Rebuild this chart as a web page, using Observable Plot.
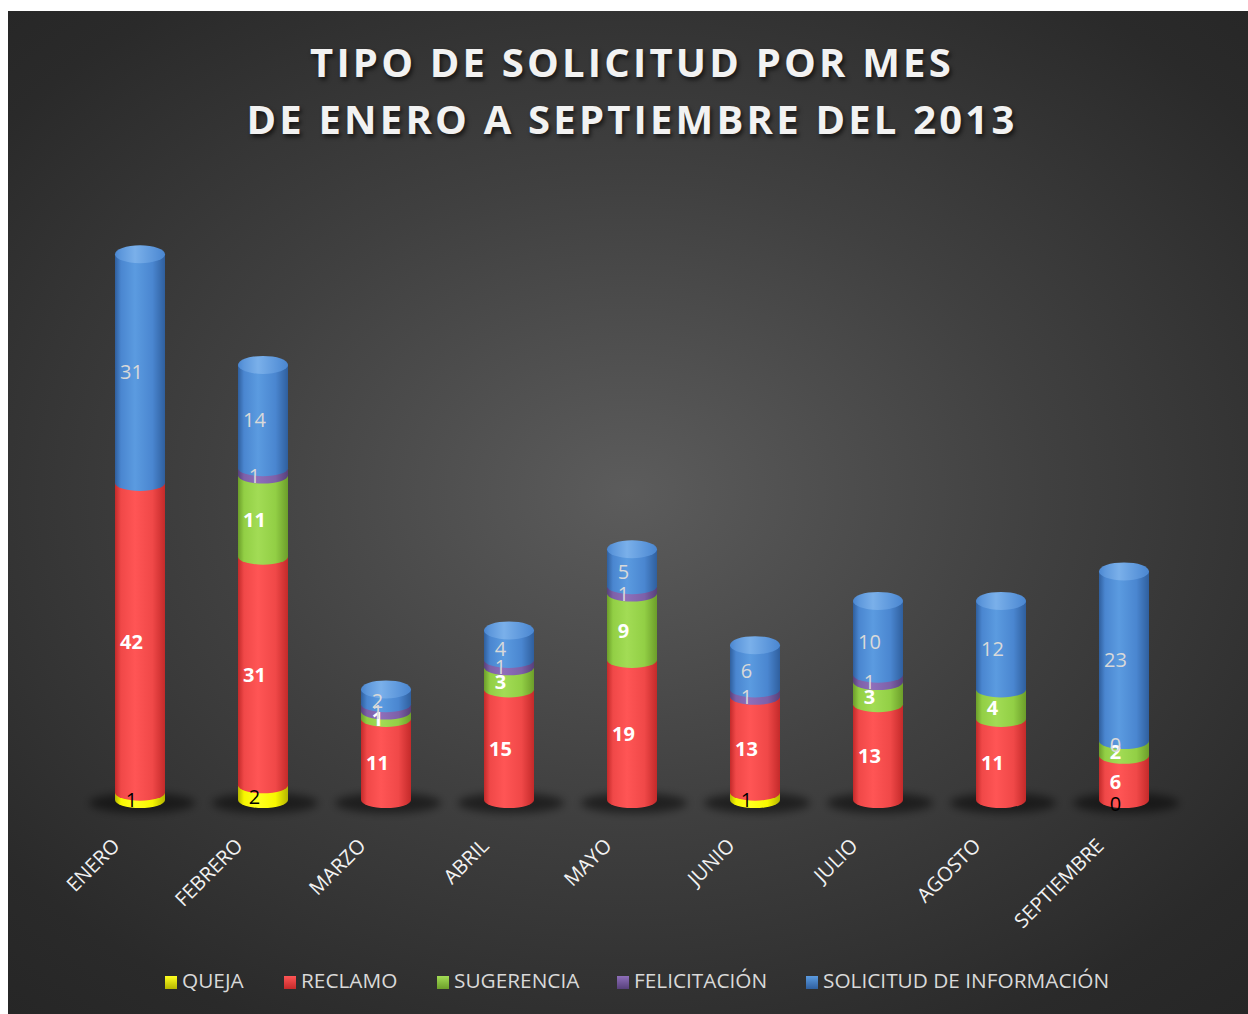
<!DOCTYPE html>
<html>
<head>
<meta charset="utf-8">
<script src="https://cdn.jsdelivr.net/npm/d3@7"></script>
<script src="https://cdn.jsdelivr.net/npm/@observablehq/plot@0.6"></script>
<style>
  html, body { margin: 0; padding: 0; background: #fff; }
  #panel {
    position: absolute; left: 8px; top: 11px; width: 1240px; height: 1003px;
    background: radial-gradient(ellipse 75% 70% at 50% 48%, #5c5c5c 0%, #404040 45%, #2a2a2a 85%, #262626 100%);
    overflow: hidden;
  }
  #title {
    position: absolute; left: 8px; top: 33px; width: 1248px; text-align: center;
    font-family: "Open Sans", sans-serif; font-weight: 700; font-size: 40px;
    letter-spacing: 3.2px; line-height: 57px; color: #f2f2f2;
    text-shadow: 2px 3px 4px rgba(0,0,0,0.6);
  }
  #chart { position: absolute; left: 0; top: 0; }
  #legend {
    position: absolute; left: 0; top: 966px; width: 1248px; height: 30px;
    font-family: "Open Sans", sans-serif; font-size: 20.8px; color: #d9d9d9;
  }
  #legend span.item { position: absolute; top: 0; white-space: nowrap; }
  #legend span.sw { display: inline-block; width: 12px; height: 13px; margin-right: 5px; vertical-align: -1px; }
</style>
</head>
<body>
<div id="root" style="position:absolute;left:0;top:0;width:1248px;height:1014px;">
  <div id="panel"></div>
  <div id="title">TIPO DE SOLICITUD POR MES<br>DE ENERO A SEPTIEMBRE DEL 2013</div>
  <div id="chart"></div>
  <div id="legend"></div>
</div>
<script>
const months = ["ENERO","FEBRERO","MARZO","ABRIL","MAYO","JUNIO","JULIO","AGOSTO","SEPTIEMBRE"];
const seriesNames = ["QUEJA","RECLAMO","SUGERENCIA","FELICITACIÓN","SOLICITUD DE INFORMACIÓN"];
const queja        = [1, 2, null, null, null, 1, null, null, 0];
const reclamo      = [42, 31, 11, 15, 19, 13, 13, 11, 6];
const sugerencia   = [null, 11, 1, 3, 9, null, 3, 4, 2];
const felicitacion = [null, 1, 1, 1, 1, 1, 1, null, 0];
const solicitud    = [31, 14, 2, 4, 5, 6, 10, 12, 23];
const seriesValues = [queja, reclamo, sugerencia, felicitacion, solicitud];

const colors = [
  {dark:"#b5b500", mid:"#ffff20", light:"#f7f700", label:"#000000", weight:"normal"},
  {dark:"#c42a2a", mid:"#ff5555", light:"#f04848", label:"#ffffff", weight:"bold"},
  {dark:"#6c9e2a", mid:"#a2dc55", light:"#92cf45", label:"#ffffff", weight:"bold"},
  {dark:"#57407a", mid:"#8e6fba", light:"#7d60a8", label:"#d9d9d9", weight:"normal"},
  {dark:"#2f5f9e", mid:"#5b9be0", light:"#4a86d0", label:"#d9d9d9", weight:"normal"}
];
const legendLeft = [165, 284, 437, 617, 806];

// build stacked segments
const segs = [];
const tops = [];
months.forEach((m, i) => {
  let acc = 0;
  seriesValues.forEach((arr, s) => {
    const v = arr[i];
    if (v === null || v === undefined) return;
    segs.push({month: m, s, value: v, y1: acc, y2: acc + v});
    acc += v;
  });
  tops.push({month: m, total: acc});
});
const bodies = segs.filter(d => d.value > 0);

const plot = Plot.plot({
  width: 1248,
  height: 950,
  marginLeft: 42,
  marginRight: 26,
  marginTop: 210,
  marginBottom: 150,
  style: {background: "transparent", overflow: "visible"},
  x: {domain: months, padding: 0.593, axis: null},
  y: {domain: [0, 80], axis: null},
  color: {type: "identity"},
  marks: [
    // floor shadow
    Plot.barY(tops, {x: "month", y1: 0, y2: 0, fill: "rgba(0,0,0,0.5)", insetTop: -10, insetBottom: -10, insetLeft: -26, insetRight: -30, rx: 50, ry: 10, dy: 3, className: "shadow"}),
    // segment bodies
    Plot.barY(bodies, {x: "month", y1: "y1", y2: "y2", fill: d => `url(#cyl${d.s})`}),
    // curved bottom edges of each segment
    Plot.barY(bodies, {x: "month", y1: "y1", y2: "y1", fill: d => `url(#cyl${d.s})`, insetTop: -8, insetBottom: -8, rx: 25, ry: 8}),
    // top cap
    Plot.barY(tops, {x: "month", y1: "total", y2: "total", fill: "url(#cap)", insetTop: -9, insetBottom: -9, rx: 25, ry: 9}),
    // value labels
    ...colors.map((c, s) => Plot.text(segs.filter(d => d.s === s), {
      x: "month", y: d => (d.y1 + d.y2) / 2, text: d => String(d.value),
      dx: -9, dy: 4,
      fill: c.label, fontWeight: c.weight, fontSize: 20, fontFamily: "Open Sans, sans-serif"
    })),
    // category labels
    Plot.text(months, {x: d => d, y: 0, text: d => d, rotate: -45, textAnchor: "end",
      dx: -24, dy: 42, fill: "#f2f2f2", fontSize: 20, fontFamily: "Open Sans, sans-serif"})
  ]
});

// gradients
const ns = "http://www.w3.org/2000/svg";
const defs = document.createElementNS(ns, "defs");
function grad(id, dark, mid, light) {
  const g = document.createElementNS(ns, "linearGradient");
  g.setAttribute("id", id);
  g.setAttribute("x1", "0"); g.setAttribute("x2", "1"); g.setAttribute("y1", "0"); g.setAttribute("y2", "0");
  [[0, dark], [0.12, light], [0.4, mid], [0.75, light], [1, dark]].forEach(([o, c]) => {
    const st = document.createElementNS(ns, "stop");
    st.setAttribute("offset", o); st.setAttribute("stop-color", c);
    g.appendChild(st);
  });
  defs.appendChild(g);
}
colors.forEach((c, s) => grad(`cyl${s}`, c.dark, c.mid, c.light));
grad("cap", "#4a86d0", "#7ab0ea", "#5e98dc");
const blur = document.createElementNS(ns, "filter");
blur.setAttribute("id", "blurf");
blur.setAttribute("x", "-50%"); blur.setAttribute("y", "-100%"); blur.setAttribute("width", "200%"); blur.setAttribute("height", "300%");
const fb = document.createElementNS(ns, "feGaussianBlur");
fb.setAttribute("stdDeviation", "4");
blur.appendChild(fb);
defs.appendChild(blur);
plot.insertBefore(defs, plot.firstChild);
const sh = plot.querySelector("g.shadow") || plot.querySelector("[aria-label=bar]");
if (sh) sh.setAttribute("filter", "url(#blurf)");

document.getElementById("chart").appendChild(plot);

// legend
const legend = document.getElementById("legend");
seriesNames.forEach((n, s) => {
  const item = document.createElement("span");
  item.className = "item";
  item.style.left = legendLeft[s] + "px";
  const sw = document.createElement("span");
  sw.className = "sw";
  sw.style.background = `linear-gradient(180deg, ${colors[s].mid}, ${colors[s].dark})`;
  item.appendChild(sw);
  item.appendChild(document.createTextNode(n));
  legend.appendChild(item);
});
</script>
</body>
</html>
